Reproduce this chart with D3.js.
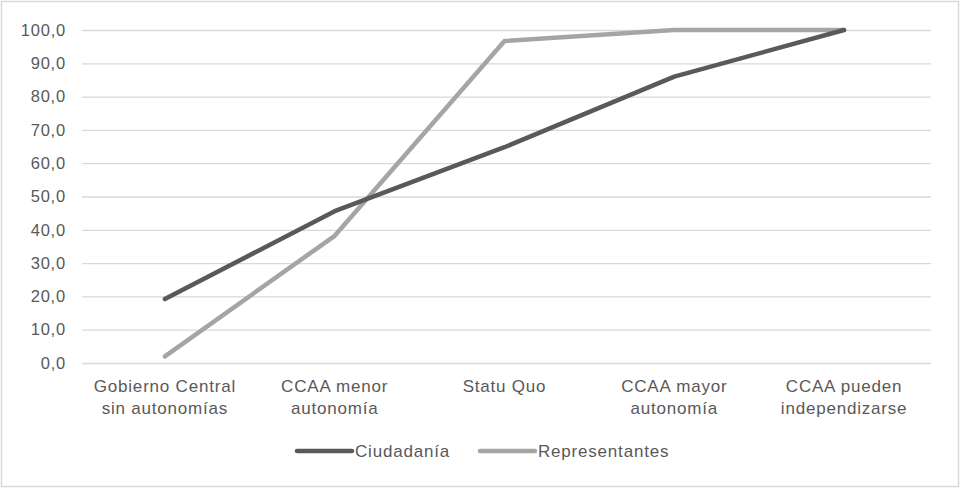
<!DOCTYPE html>
<html>
<head>
<meta charset="utf-8">
<script src="https://cdn.jsdelivr.net/npm/d3@7"></script>
<style>
  body { margin: 0; background: #fff; }
  text { font-family: "Liberation Sans", Arial, sans-serif; fill: #595959; letter-spacing: 0.8px; }
</style>
</head>
<body>
<script>
const categories = [
  ["Gobierno Central", "sin autonomías"],
  ["CCAA menor", "autonomía"],
  ["Statu Quo"],
  ["CCAA mayor", "autonomía"],
  ["CCAA pueden", "independizarse"]
];
const ciudadania = [19.2, 45.6, 64.8, 86.0, 100.0];
const representantes = [2.0, 38.2, 96.7, 100.0, 100.0];
const yTicks = [0, 10, 20, 30, 40, 50, 60, 70, 80, 90, 100];
const seriesNames = ["Ciudadanía", "Representantes"];

const w = 960, h = 490;
const margin = {left: 82, right: 29, top: 30, bottom: 127};

const svg = d3.select('body').append('svg')
  .attr('width', w)
  .attr('height', h);

// chart border
svg.append('rect')
  .attr('x', 1.5).attr('y', 1.5)
  .attr('width', w - 3).attr('height', h - 5)
  .attr('fill', 'none')
  .attr('stroke', '#d9d9d9')
  .attr('stroke-width', 1.5);

const xScale = d3.scaleBand()
  .domain(d3.range(categories.length))
  .range([margin.left, w - margin.right]);

const yScale = d3.scaleLinear()
  .domain([0, 100])
  .range([h - margin.bottom, margin.top]);

const colors = d3.scaleOrdinal()
  .domain(seriesNames)
  .range(["#595959", "#a5a5a5"]);

// grid + y labels
const yAxis = d3.axisLeft(yScale)
  .tickValues(yTicks)
  .tickSize(-(w - margin.left - margin.right))
  .tickPadding(16)
  .tickFormat(d => d3.format(".1f")(d).replace(".", ","));

const gy = svg.append('g')
  .attr('transform', 'translate(' + margin.left + ',0)')
  .call(yAxis);
gy.select('.domain').remove();
gy.selectAll('.tick line').attr('stroke', '#d9d9d9').attr('stroke-width', 1.3);
gy.selectAll('.tick text').attr('font-size', 16.5).style('fill', '#595959')
  .style('font-family', '"Liberation Sans", Arial, sans-serif');

// x labels
const xl = svg.append('g').selectAll('text')
  .data(categories)
  .enter().append('text')
  .attr('text-anchor', 'middle')
  .attr('font-size', 17)
  .attr('x', (d, i) => xScale(i) + xScale.bandwidth() / 2 - 2)
  .attr('y', h - margin.bottom + 29);
xl.selectAll('tspan')
  .data(d => d)
  .enter().append('tspan')
  .attr('x', function() { return d3.select(this.parentNode).attr('x'); })
  .attr('dy', (d, i) => i === 0 ? 0 : 22)
  .text(d => d);

// lines
const line = d3.line()
  .x((d, i) => xScale(i) + xScale.bandwidth() / 2 - 2)
  .y(d => yScale(d));

const series = [ciudadania, representantes];
series.slice().reverse().forEach(function(s, j) {
  const i = series.length - 1 - j;
  svg.append('path')
    .datum(s)
    .attr('d', line)
    .attr('fill', 'none')
    .attr('stroke', colors(seriesNames[i]))
    .attr('stroke-width', 4.5)
    .attr('stroke-linejoin', 'round')
    .attr('stroke-linecap', 'round');
});

// legend
const legendX = [297, 480];
const legend = svg.selectAll('.legend')
  .data(seriesNames)
  .enter().append('g')
  .attr('class', 'legend')
  .attr('transform', (d, i) => 'translate(' + legendX[i] + ',451)');

legend.append('line')
  .attr('x1', 0).attr('x2', 55)
  .attr('stroke', d => colors(d))
  .attr('stroke-width', 4.5)
  .attr('stroke-linecap', 'round');

legend.append('text')
  .attr('x', 58)
  .attr('dy', '0.35em')
  .attr('font-size', 17)
  .text(d => d);
</script>
</body>
</html>
